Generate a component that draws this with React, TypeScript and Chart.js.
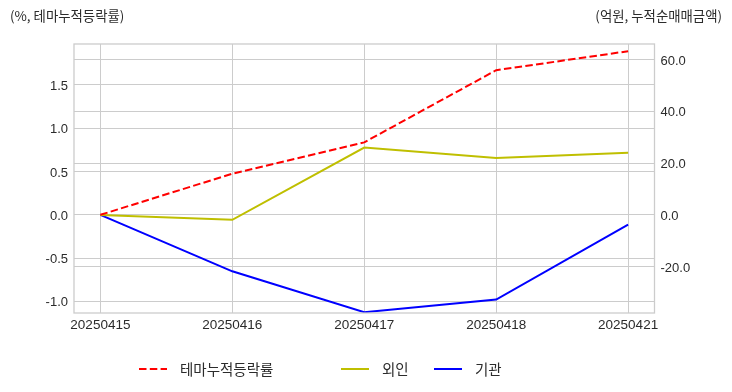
import React, { useEffect, useRef } from "react";
import { Chart, registerables } from "chart.js";

Chart.register(...registerables);

const categories = ["20250415", "20250416", "20250417", "20250418", "20250421"];
const themeReturn = [0, 0.475, 0.837, 1.67, 1.89];
const foreignNet = [0, -1.9, 26.0, 22.0, 24.0];
const institutionNet = [0, -21.8, -37.6, -32.7, -3.8];
const leftTicks = [-1.0, -0.5, 0.0, 0.5, 1.0, 1.5];
const rightTicks = [-20, 0, 20, 40, 60];
const seriesNames = ["테마누적등락률", "외인", "기관"];
const leftTitle = "(%, 테마누적등락률)";
const rightTitle = "(억원, 누적순매매금액)";

const TICK_FONT = "'Liberation Sans', Arial, sans-serif";
const KR_FONT = "'Noto Sans CJK KR', 'Liberation Sans', sans-serif";
const GRID = "#cccccc";
const TEXT = "#2b2b2b";

const decorPlugin = {
  id: "decor",
  afterDraw(chart: any) {
    const { ctx, chartArea } = chart;
    ctx.save();
    ctx.strokeStyle = GRID;
    ctx.lineWidth = 1.3;
    ctx.strokeRect(chartArea.left, chartArea.top, chartArea.right - chartArea.left, chartArea.bottom - chartArea.top);
    ctx.fillStyle = TEXT;
    ctx.font = `13.4px ${KR_FONT}`;
    ctx.textBaseline = "middle";
    ctx.textAlign = "left";
    ctx.fillText(leftTitle, 10, 16);
    ctx.textAlign = "right";
    ctx.fillText(rightTitle, 722, 16);
    const xs = [139, 341, 434];
    const y = 369;
    ctx.font = `14.5px ${KR_FONT}`;
    ctx.textAlign = "left";
    chart.data.datasets.forEach((ds: any, i: number) => {
      const x = xs[i];
      ctx.beginPath();
      ctx.strokeStyle = ds.borderColor;
      ctx.lineWidth = ds.borderWidth;
      ctx.setLineDash(ds.borderDash || []);
      ctx.moveTo(x, y);
      ctx.lineTo(x + 28, y);
      ctx.stroke();
      ctx.setLineDash([]);
      ctx.fillStyle = TEXT;
      ctx.fillText(ds.label, x + 41, y);
    });
    ctx.restore();
  },
};

export default function App() {
  const ref = useRef<HTMLCanvasElement>(null);
  useEffect(() => {
    if (!ref.current) return;
    const toPts = (arr: number[]) => arr.map((v, i) => ({ x: i, y: v }));
    const chart = new Chart(ref.current, {
      type: "line",
      data: {
        datasets: [
          {
            label: seriesNames[0],
            data: toPts(themeReturn),
            borderColor: "#ff0000",
            borderWidth: 2,
            borderDash: [7.5, 3.3],
            pointRadius: 0,
            yAxisID: "y",
            tension: 0,
          },
          {
            label: seriesNames[1],
            data: toPts(foreignNet),
            borderColor: "#bfbf00",
            borderWidth: 2,
            pointRadius: 0,
            yAxisID: "y1",
            tension: 0,
          },
          {
            label: seriesNames[2],
            data: toPts(institutionNet),
            borderColor: "#0000ff",
            borderWidth: 2,
            pointRadius: 0,
            yAxisID: "y1",
            tension: 0,
          },
        ],
      },
      options: {
        responsive: false,
        animation: false,
        layout: { padding: { left: 0, right: 0, top: 44, bottom: 49 } },
        plugins: { legend: { display: false }, tooltip: { enabled: false }, title: { display: false } },
        scales: {
          x: {
            type: "linear",
            min: -0.2,
            max: 4.2,
            afterBuildTicks: (s: any) => {
              s.ticks = categories.map((_, i) => ({ value: i }));
            },
            afterFit: (s: any) => {
              s.height = 30;
            },
            ticks: {
              callback: (v: any) => categories[v as number] ?? "",
              font: { family: TICK_FONT, size: 13.5 },
              color: TEXT,
              padding: 4,
              maxRotation: 0,
              autoSkip: false,
            },
            grid: { color: GRID, lineWidth: 1, drawTicks: false },
            border: { display: false },
          },
          y: {
            type: "linear",
            position: "left",
            min: -1.134,
            max: 1.973,
            afterBuildTicks: (s: any) => {
              s.ticks = leftTicks.map((v) => ({ value: v }));
            },
            afterFit: (s: any) => {
              s.width = 74;
            },
            ticks: {
              callback: (v: any) => Number(v).toFixed(1),
              font: { family: TICK_FONT, size: 13 },
              color: TEXT,
              padding: 6,
              labelOffset: 1.5,
            },
            grid: { color: GRID, lineWidth: 1, drawTicks: false },
            border: { display: false },
          },
          y1: {
            type: "linear",
            position: "right",
            min: -37.9,
            max: 66.0,
            afterBuildTicks: (s: any) => {
              s.ticks = rightTicks.map((v) => ({ value: v }));
            },
            afterFit: (s: any) => {
              s.width = 77.5;
            },
            ticks: {
              callback: (v: any) => Number(v).toFixed(1),
              font: { family: TICK_FONT, size: 13 },
              color: TEXT,
              padding: 6,
              labelOffset: 1.5,
            },
            grid: { color: GRID, lineWidth: 1, drawTicks: false },
            border: { display: false },
          },
        },
      },
      plugins: [decorPlugin],
    } as any);
    return () => chart.destroy();
  }, []);
  return (
    <div style={{ position: "absolute", left: 0, top: 0, width: 732, height: 392, background: "#fff" }}>
      <canvas ref={ref} width={732} height={392} style={{ display: "block" }} />
    </div>
  );
}
